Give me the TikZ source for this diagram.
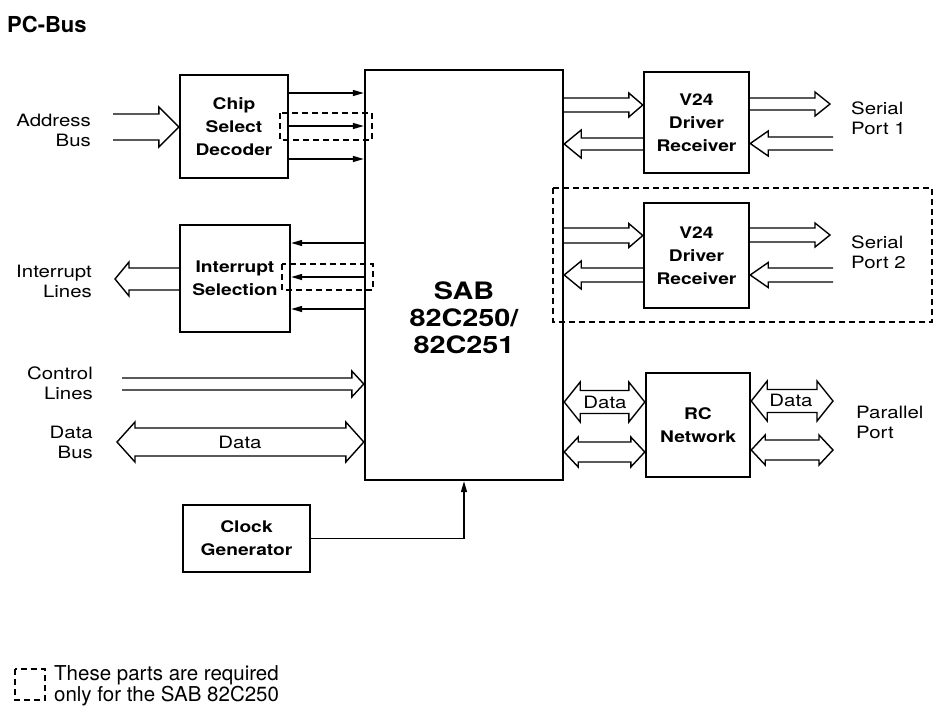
\documentclass[tikz,border=0pt]{standalone}
\usepackage{fontspec}
\setmainfont[FakeStretch=1.2]{TeX Gyre Heros}
\newfontfamily\plainfont{TeX Gyre Heros}
\usetikzlibrary{calc,arrows.meta}

% hollow single arrow: #1 tail, #2 tip, #3 shaft half width, #4 head half height, #5 head length
\newcommand\harr[5]{%
  \path (#1) coordinate (p1) (#2) coordinate (p2);
  \path ($(p2)!#5!(p1)$) coordinate (hB);
  \draw[hollow] ($(p1)+(0,-#3)$) -- ($(hB)+(0,-#3)$) -- ($(hB)+(0,-#4)$) -- (p2)
     -- ($(hB)+(0,#4)$) -- ($(hB)+(0,#3)$) -- ($(p1)+(0,#3)$);}
% hollow double arrow: #1 tip, #2 tip
\newcommand\darr[5]{%
  \path (#1) coordinate (p1) (#2) coordinate (p2);
  \path ($(p1)!#5!(p2)$) coordinate (hA) ($(p2)!#5!(p1)$) coordinate (hB);
  \draw[hollow] ($(hA)+(0,-#3)$) -- ($(hB)+(0,-#3)$) -- ($(hB)+(0,-#4)$) -- (p2)
     -- ($(hB)+(0,#4)$) -- ($(hB)+(0,#3)$) -- ($(hA)+(0,#3)$) -- ($(hA)+(0,#4)$)
     -- (p1) -- ($(hA)+(0,-#4)$) -- cycle;}

\begin{document}
\begin{tikzpicture}[x=1pt,y=-1pt,
  box/.style={draw, line width=2.4pt, align=center, inner sep=0pt,
    font=\bfseries\fontsize{16}{23}\selectfont},
  lbl/.style={inner sep=0pt, font=\fontsize{17}{20}\selectfont},
  hollow/.style={line width=1.4pt, line join=miter},
  thinarrow/.style={line width=1.4pt, -{Triangle[length=11pt,width=6pt]}},
  dashbox/.style={line width=1.3pt, dash pattern=on 6pt off 4pt}]
\useasboundingbox (0,0) rectangle (935,705);

% title
\node[anchor=west, inner sep=0pt, font=\plainfont\bfseries\fontsize{22}{26}\selectfont] (title) at (7,24) {PC-Bus};

% boxes
\node[box, minimum width=198pt, minimum height=410pt] (sab) at (464,275) {};
\node[inner sep=0pt, align=center, font=\bfseries\fontsize{24}{27}\selectfont] (sabtxt) at (464,318) {SAB\\82C250/\\82C251};
\node[box, minimum width=108pt, minimum height=103pt] (csd) at (234,126.5) {Chip\\Select\\Decoder};
\node[box, minimum width=110pt, minimum height=107pt] (is) at (235,278.5) {Interrupt\\Selection};
\node[box, minimum width=105pt, minimum height=101pt] (v1) at (696.5,122.5) {V24\\Driver\\Receiver};
\node[box, minimum width=105pt, minimum height=105pt] (v2) at (696.5,255.5) {V24\\Driver\\Receiver};
\node[box, minimum width=104pt, minimum height=104pt] (rc) at (698,425) {RC\\Network};
\node[box, minimum width=127pt, minimum height=67pt] (clk) at (246.5,538.5) {Clock\\Generator};

% chip select lines
\draw[thinarrow] (csd.east |- 0,93) -- (sab.west |- 0,93);
\draw[thinarrow] (csd.east |- 0,126) -- (sab.west |- 0,126);
\draw[thinarrow] (csd.east |- 0,159) -- (sab.west |- 0,159);
\draw[dashbox] (280,113) rectangle (372,140);

% interrupt lines
\draw[thinarrow] (sab.west |- 0,243) -- (is.east |- 0,243);
\draw[thinarrow] (sab.west |- 0,277) -- (is.east |- 0,277);
\draw[thinarrow] (sab.west |- 0,309) -- (is.east |- 0,309);
\draw[dashbox] (282,264) rectangle (373,290);

% left buses
\harr{113,127}{csd.west |- 0,127}{13}{20}{20pt}
\harr{is.west |- 0,279}{115,279}{11}{17}{14pt}
\harr{122,384}{sab.west |- 0,384}{6}{13}{12pt}
\darr{117,442}{sab.west |- 0,442}{14}{20}{18pt}
\node[lbl] (dlbl) at (240,442) {Data};

\node[lbl, anchor=east, align=right] (la) at (91,130) {Address\\Bus};
\node[lbl, anchor=east, align=right] (li) at (92,281) {Interrupt\\Lines};
\node[lbl, anchor=east, align=right] (lc) at (93,383) {Control\\Lines};
\node[lbl, anchor=east, align=right] (ld) at (93,442) {Data\\Bus};

% serial port 1
\harr{sab.east |- 0,105}{v1.west |- 0,105}{7}{12}{14pt}
\harr{v1.west |- 0,144}{sab.east |- 0,144}{6}{14}{17pt}
\harr{v1.east |- 0,104}{830,104}{6}{12}{15pt}
\harr{833,143.5}{v1.east |- 0,143.5}{6.5}{12.5}{18pt}
\node[lbl, anchor=west, align=left] (sp1) at (851,118) {Serial\\Port 1};

% serial port 2
\harr{sab.east |- 0,235.5}{v2.west |- 0,235.5}{7.5}{12}{14pt}
\harr{v2.west |- 0,275}{sab.east |- 0,275}{7}{14}{17pt}
\harr{v2.east |- 0,235}{830,235}{7}{12}{15pt}
\harr{833,275}{v2.east |- 0,275}{7}{12.5}{18pt}
\node[lbl, anchor=west, align=left] (sp2) at (851,252) {Serial\\Port 2};
\draw[dashbox] (553,188) rectangle (932,322);

% parallel port
\darr{sab.east |- 0,402}{rc.west |- 0,402}{11.5}{20}{16pt}
\darr{sab.east |- 0,452}{rc.west |- 0,452}{10}{15}{14pt}
\darr{rc.east |- 0,401}{833,401}{11.5}{20}{16pt}
\darr{rc.east |- 0,450}{833,450}{10}{15}{14pt}
\node[lbl] (dl1) at (605,402) {Data};
\node[lbl] (dl2) at (791,400) {Data};
\node[lbl, anchor=west, align=left] (pp) at (856,422) {Parallel\\Port};

% clock
\draw[thinarrow] (clk.east) -| (sab.south);

% legend
\draw[dashbox] (15,669) rectangle (45,700);
\node[anchor=west, align=left, inner sep=0pt, font=\plainfont\fontsize{20.5}{18}\selectfont] (legend) at (54,686) {These parts are required\\only for the SAB 82C250};
\end{tikzpicture}
\end{document}
